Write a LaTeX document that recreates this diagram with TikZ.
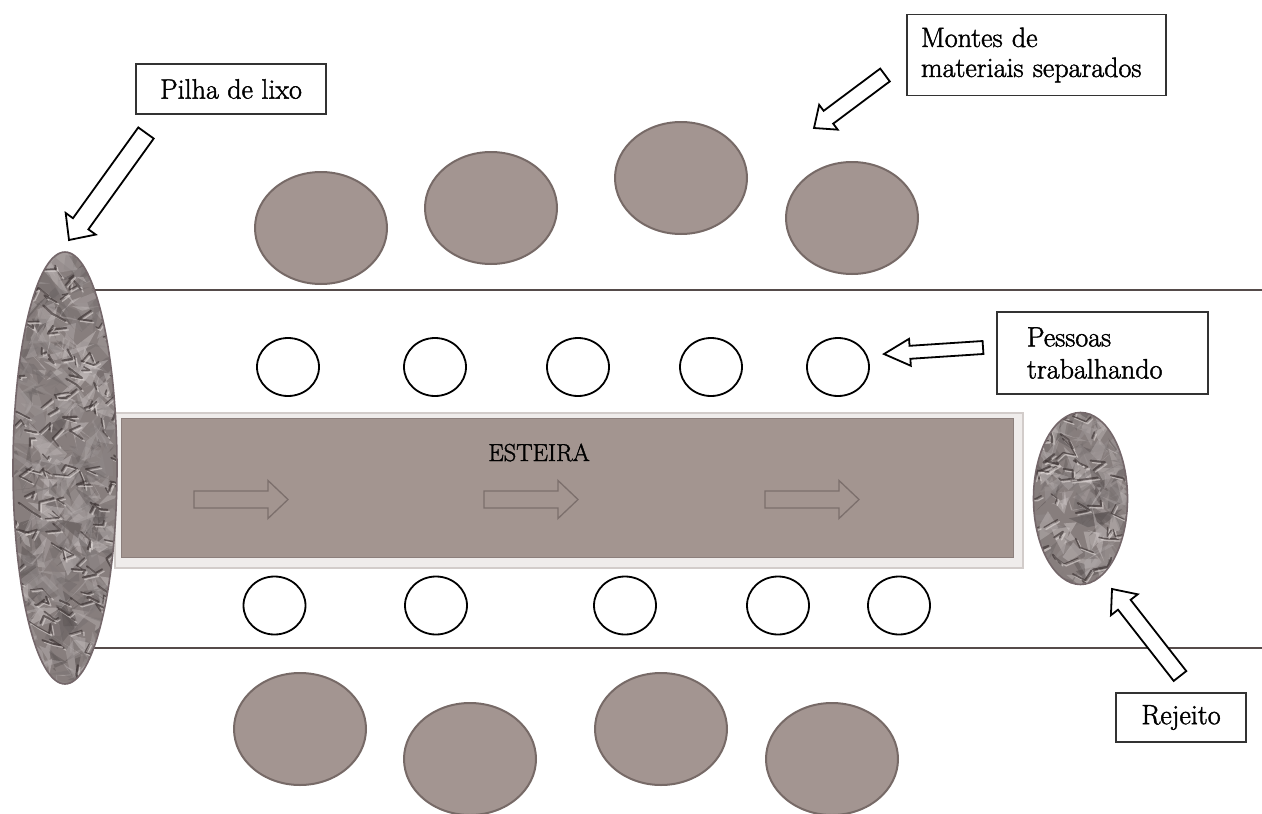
\documentclass[tikz,border=0pt]{standalone}
\usepackage{fontspec}
\setmainfont{Latin Modern Roman}[RawFeature={embolden=1.6}]
\usetikzlibrary{calc,shapes.geometric}

\definecolor{mound}{HTML}{A39591}
\definecolor{moundedge}{HTML}{776A67}
\definecolor{belt}{HTML}{A39590}
\definecolor{beltedge}{HTML}{8C7F7C}
\definecolor{beltframe}{HTML}{EFECEB}
\definecolor{beltframeedge}{HTML}{D2CCCA}
\definecolor{beltarrow}{HTML}{7C6F6C}
\definecolor{rail}{HTML}{554B4A}
\definecolor{boxedge}{HTML}{333333}
\definecolor{pilebase}{HTML}{877E7D}
\definecolor{pileedge}{HTML}{74676A}
\definecolor{creasec}{HTML}{3A3131}
\definecolor{ridgec}{HTML}{E0D9D7}

% crumpled-paper texture: random facets, then dark creases with light ridges
\newcommand\crumple[6]{% centre x, centre y, half width, half height, facets, creases
  \fill[pilebase] (#1-#3,#2-#4) rectangle (#1+#3,#2+#4);
  \foreach \k in {1,...,#5}{%
    \pgfmathsetmacro\ux{#1+#3*rand}%
    \pgfmathsetmacro\uy{#2+#4*rand}%
    \pgfmathtruncatemacro\lv{140+65*rand}%
    \pgfmathtruncatemacro\lr{\lv+7}%
    \definecolor{facet}{RGB}{\lr,\lv,\lv}%
    \fill[facet,opacity=.45] (\ux,\uy) -- ++(20*rand,20*rand) -- ++(20*rand,20*rand) -- ++(20*rand,20*rand) -- cycle;
  }%
  \foreach \k in {1,...,#6}{%
    \pgfmathsetmacro\ux{#1+#3*rand}%
    \pgfmathsetmacro\uy{#2+#4*rand}%
    \pgfmathsetmacro\ax{15*rand}%
    \pgfmathsetmacro\ay{10*rand}%
    \pgfmathsetmacro\bx{15*rand}%
    \pgfmathsetmacro\by{10*rand}%
    \pgfmathsetmacro\lw{1.6+0.6*rand}%
    \draw[ridgec,line width=1.3pt,opacity=.6,line join=round,line cap=round] (\ux+2,\uy+2) -- ++(\ax,\ay) -- ++(\bx,\by);
    \draw[creasec,line width=\lw pt,opacity=.65,line join=round,line cap=round] (\ux,\uy) -- ++(\ax,\ay) -- ++(\bx,\by);
  }%
}

% hollow block arrow between two named coordinates
\newcommand\blockarrow[6]{% style, tail, tip, half body width, half head width, head length
  \path ($(#3)!#6pt!(#2)$) coordinate (#3-base);
  \draw[#1] ($(#2)!#4pt!90:(#3)$) -- ($(#3-base)!#4pt!90:(#3)$) -- ($(#3-base)!#5pt!90:(#3)$)
    -- (#3) -- ($(#3-base)!#5pt!-90:(#3)$) -- ($(#3-base)!#4pt!-90:(#3)$) -- ($(#2)!#4pt!-90:(#3)$) -- cycle;
}

\begin{document}
\begin{tikzpicture}[x=1pt,y=-1pt,
  labelfont/.style={font=\fontsize{28pt}{30pt}\selectfont},
  labelbox/.style={draw=boxedge,line width=1.3pt,fill=white,inner sep=0pt,labelfont},
  mound/.style={ellipse,fill=mound,draw=moundedge,line width=2pt,minimum width=132pt,minimum height=112pt,inner sep=0pt},
  person/.style={ellipse,draw=black,line width=1.8pt,minimum width=62pt,minimum height=58pt,inner sep=0pt},
  heap/.style={ellipse,draw=pileedge,line width=1.6pt,inner sep=0pt},
  pointer/.style={draw=black,line width=1.8pt,fill=white},
  beltpointer/.style={draw=beltarrow,line width=1.3pt,fill=belt},
  railline/.style={draw=rail,line width=2pt}]
\useasboundingbox[fill=white] (0,0) rectangle (1262,814);
\pgfmathsetseed{11}

% side rails of the sorting corridor
\draw[railline] (65,290) -- (1262,290);
\draw[railline] (65,648) -- (1262,648);

% conveyor belt
\node[draw=beltframeedge,fill=beltframe,line width=1.5pt,minimum width=908pt,minimum height=155pt,inner sep=0pt] (frame) at (569,490.5) {};
\node[draw=beltedge,fill=belt,line width=1pt,minimum width=892pt,minimum height=139pt,inner sep=0pt] (belt) at (567,487.5) {};
\node[font=\fontsize{24.5pt}{28pt}\selectfont,anchor=base] (esteira) at (539,461) {ESTEIRA};

\foreach \x [count=\i] in {194,484,765}{
  \coordinate (bt\i) at (\x,499.5);
  \coordinate (bp\i) at (\x+94,499.5);
  \blockarrow{beltpointer}{bt\i}{bp\i}{8.5}{19}{20}
}

% waste heap at the feed end
\begin{scope}
  \clip (65,468) ellipse [x radius=52pt, y radius=216pt];
  \crumple{65}{468}{52}{216}{480}{120}
\end{scope}
\node[heap,minimum width=104pt,minimum height=432pt] (pile) at (65,468) {};

% reject heap at the far end
\begin{scope}
  \clip (1080.5,498.5) ellipse [x radius=47pt, y radius=86pt];
  \crumple{1080.5}{498.5}{47}{86}{190}{45}
\end{scope}
\node[heap,minimum width=94pt,minimum height=172pt] (reject) at (1080.5,498.5) {};

% sorted material mounds
\node[mound] (m1) at (321,228) {};
\node[mound] (m2) at (491,208) {};
\node[mound] (m3) at (681,178) {};
\node[mound] (m4) at (852,218) {};
\node[mound] (m5) at (300,729) {};
\node[mound] (m6) at (470,759) {};
\node[mound] (m7) at (661,729) {};
\node[mound] (m8) at (832,759) {};

% workers on both sides of the belt
\foreach \x [count=\i] in {288,435,578,711,838}
  \node[person] (pt\i) at (\x,367) {};
\foreach \x [count=\i] in {274.5,436,625,778,899}
  \node[person] (pb\i) at (\x,605.5) {};

% labels
\node[labelbox,minimum width=190pt,minimum height=50pt] (lpilha) at (231,89) {Pilha de lixo};
\node[labelbox,minimum height=81pt,text width=231pt,inner xsep=14pt,align=left] (lmontes) at (1036.5,55)
  {Montes de\\materiais separados};
\node[labelbox,minimum height=82pt,text width=151pt,inner xsep=30pt,align=left,font=\fontsize{28pt}{32pt}\selectfont] (lpessoas) at (1102.5,353)
  {Pessoas\\trabalhando};
\node[labelbox,minimum width=130pt,minimum height=49pt] (lrejeito) at (1181,717.5) {Rejeito};

% pointers from labels
\coordinate (pilhatail) at (146,133);
\coordinate (pilhatip) at (69,240);
\blockarrow{pointer}{pilhatail}{pilhatip}{9.5}{18.5}{20}
\coordinate (montestail) at (885,75);
\coordinate (montestip) at (814,128);
\blockarrow{pointer}{montestail}{montestip}{8}{15.5}{18}
\coordinate (pessoastail) at (983,347.5);
\coordinate (pessoastip) at (884,354);
\blockarrow{pointer}{pessoastail}{pessoastip}{6.5}{13.5}{26}
\coordinate (rejeitotail) at (1180,676);
\coordinate (rejeitotip) at (1112,589);
\blockarrow{pointer}{rejeitotail}{rejeitotip}{8}{17}{20}
\end{tikzpicture}
\end{document}
